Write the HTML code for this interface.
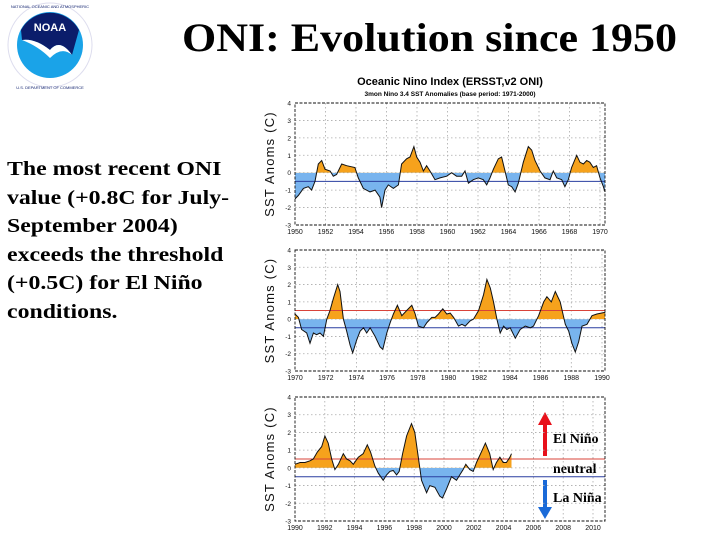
<!DOCTYPE html>
<html><head><meta charset="utf-8"><style>
html,body{margin:0;padding:0;background:#fff;}
body{width:720px;height:540px;overflow:hidden;position:relative;font-family:"Liberation Sans",sans-serif;}
.title{position:absolute;left:182px;top:14px;font:bold 40px "Liberation Serif",serif;color:#000;white-space:nowrap;transform:scale(1.1,1);transform-origin:left top;}
.desc{position:absolute;left:7px;top:155px;font:bold 20px/28.5px "Liberation Serif",serif;color:#000;white-space:nowrap;transform:scale(1.19,1);transform-origin:left top;}
</style></head><body>
<div class="title">ONI: Evolution since 1950</div>
<div class="desc">The most recent ONI<br>value (+0.8C for July-<br>September 2004)<br>exceeds the threshold<br>(+0.5C) for El Niño<br>conditions.</div>
<svg width="720" height="540" style="position:absolute;left:0;top:0" id="svg">
 <g>
  <circle cx="50" cy="45" r="42" fill="#fff" stroke="#dde" stroke-width="1"/>
  <circle cx="50" cy="45" r="33" fill="#1aa3e8"/>
  <path d="M21,30 A33,33 0 0 1 79,30 L72,55 Q60,38 50,50 Q35,38 22,40 Z" fill="#0b1d6b"/>
  <path d="M22,40 Q35,38 50,50 Q60,38 72,55 Q62,46 50,58 Q38,46 22,40Z" fill="#fff"/>
  <text x="50" y="31" font-size="11" font-weight="bold" fill="#fff" text-anchor="middle" font-family="Liberation Sans">NOAA</text>
  <text x="50" y="8" font-size="4" fill="#0b1d6b" text-anchor="middle">NATIONAL OCEANIC AND ATMOSPHERIC</text>
  <text x="50" y="89" font-size="4" fill="#0b1d6b" text-anchor="middle">U.S. DEPARTMENT OF COMMERCE</text>
 </g>
 <text x="450" y="85" font-size="11" font-weight="bold" text-anchor="middle">Oceanic Nino Index (ERSST,v2 ONI)</text>
 <text x="450" y="96" font-size="6.5" font-weight="bold" text-anchor="middle">3mon Nino 3.4 SST Anomalies (base period: 1971-2000)</text>
 <g>
  <line x1="545" y1="456" x2="545" y2="424" stroke="#e8101a" stroke-width="4"/>
  <polygon points="538,425 552,425 545,412" fill="#e8101a"/>
  <line x1="545" y1="480" x2="545" y2="508" stroke="#1a6ad8" stroke-width="4"/>
  <polygon points="538,507 552,507 545,519" fill="#1a6ad8"/>
  <text x="553" y="443" font-family="Liberation Serif" font-weight="bold" font-size="14">El Niño</text>
  <text x="553" y="473" font-family="Liberation Serif" font-weight="bold" font-size="14">neutral</text>
  <text x="553" y="502" font-family="Liberation Serif" font-weight="bold" font-size="14">La Niña</text>
 </g>
</svg>
<script>
const years1=[1950.00,1950.22,1950.55,1950.87,1951.09,1951.31,1951.53,1951.75,1951.97,1952.30,1952.51,1952.73,1953.06,1953.39,1953.93,1954.15,1954.48,1954.92,1955.25,1955.57,1955.68,1955.90,1956.12,1956.45,1956.78,1956.99,1957.32,1957.54,1957.80,1957.98,1958.20,1958.42,1958.63,1958.85,1959.18,1959.51,1959.95,1960.27,1960.60,1960.93,1961.15,1961.37,1961.69,1962.02,1962.35,1962.57,1962.79,1963.01,1963.33,1963.55,1963.77,1963.99,1964.21,1964.43,1964.64,1964.97,1965.30,1965.52,1965.74,1966.07,1966.39,1966.72,1966.94,1967.16,1967.49,1967.70,1967.92,1968.14,1968.47,1968.69,1968.91,1969.13,1969.34,1969.56,1969.78,1970.00,1970.22,1970.33];
const oni1=[-1.5,-1.3,-0.9,-0.8,-1.0,-0.5,0.5,0.7,0.2,0.1,-0.2,-0.1,0.5,0.4,0.3,-0.3,-0.9,-1.1,-1.0,-1.4,-2.0,-1.0,-0.7,-0.9,-0.7,0.5,0.8,0.9,1.5,0.9,0.6,0.1,0.4,0.1,-0.4,-0.3,-0.2,0.0,-0.2,-0.2,0.1,-0.6,-0.4,-0.3,-0.4,-0.7,-0.3,0.2,0.8,0.9,0.1,-0.7,-0.8,-1.1,-0.6,0.6,1.5,1.3,0.7,0.1,-0.3,-0.4,0.1,-0.3,-0.4,-0.8,-0.4,0.3,1.0,0.6,0.5,0.7,0.6,0.3,0.4,-0.3,-0.8,-1.1];
const years2=[1970.00,1970.22,1970.43,1970.76,1970.98,1971.20,1971.41,1971.63,1971.85,1972.07,1972.28,1972.50,1972.78,1972.93,1973.15,1973.37,1973.59,1973.76,1974.02,1974.24,1974.46,1974.67,1974.89,1975.22,1975.54,1975.72,1975.98,1976.20,1976.41,1976.67,1976.96,1977.28,1977.61,1977.83,1978.04,1978.37,1978.59,1978.91,1979.13,1979.35,1979.63,1979.89,1980.11,1980.33,1980.65,1980.87,1981.09,1981.41,1981.63,1981.96,1982.28,1982.50,1982.72,1982.93,1983.15,1983.37,1983.59,1983.80,1984.02,1984.35,1984.67,1985.00,1985.33,1985.54,1985.87,1986.20,1986.41,1986.70,1986.96,1987.28,1987.61,1987.83,1988.04,1988.26,1988.48,1988.70,1989.02,1989.35,1989.67,1990.22];
const oni2=[0.3,0.1,-0.6,-0.8,-1.4,-0.8,-0.9,-0.8,-1.0,0.0,0.5,1.2,2.0,1.6,0.0,-0.7,-1.5,-1.95,-1.2,-0.7,-0.5,-0.8,-0.5,-1.0,-1.6,-1.75,-0.8,-0.2,0.3,0.8,0.2,0.5,0.8,0.3,-0.4,-0.5,-0.2,0.1,0.1,0.3,0.6,0.3,0.35,0.1,-0.4,-0.3,-0.4,-0.1,0.0,0.5,1.4,2.3,1.8,1.0,0.0,-0.8,-0.4,-0.6,-0.5,-1.1,-0.6,-0.4,-0.5,-0.4,0.2,1.0,1.3,1.0,1.6,1.0,-0.3,-0.7,-1.4,-1.9,-1.3,-0.4,-0.3,0.2,0.3,0.4];
const years3=[1990.00,1990.34,1990.67,1991.01,1991.23,1991.50,1991.79,1992.01,1992.23,1992.46,1992.68,1992.91,1993.24,1993.46,1993.69,1993.91,1994.25,1994.58,1994.85,1995.07,1995.36,1995.59,1995.92,1996.15,1996.37,1996.59,1996.82,1996.99,1997.22,1997.49,1997.82,1998.04,1998.34,1998.49,1998.83,1999.05,1999.39,1999.72,1999.90,2000.17,2000.50,2000.84,2001.06,2001.28,2001.46,2001.73,2001.96,2002.18,2002.51,2002.78,2003.07,2003.30,2003.52,2003.75,2003.97,2004.19,2004.42,2004.53];
const oni3=[0.2,0.3,0.3,0.4,0.5,0.9,1.2,1.8,1.4,0.5,-0.1,0.2,0.8,0.5,0.4,0.2,0.6,0.8,1.3,0.9,0.1,-0.3,-0.7,-0.4,-0.2,-0.15,-0.4,-0.2,0.8,1.8,2.5,2.0,0.2,-0.7,-1.4,-1.0,-1.1,-1.6,-1.7,-1.2,-0.5,-0.7,-0.4,-0.1,0.2,-0.1,-0.2,0.3,0.9,1.4,0.8,-0.1,0.3,0.6,0.3,0.3,0.6,0.8];
const yTicks=[4,3,2,1,0,-1,-2,-3];
const thresholds=[0.5,-0.5];

const NS='http://www.w3.org/2000/svg';
const svg=document.getElementById('svg');
function mk(tag,attrs,parent){const e=document.createElementNS(NS,tag);for(const k in attrs)e.setAttribute(k,attrs[k]);parent.appendChild(e);return e;}

const panels=[
 {years:years1,vals:oni1,y0:1950,xl:295,xr:605,pxPerYr:15.25,top:103,bot:225,red:false,name:'panel-1950-1970'},
 {years:years2,vals:oni2,y0:1970,xl:295,xr:605,pxPerYr:15.35,top:250,bot:371,red:true,name:'panel-1970-1990'},
 {years:years3,vals:oni3,y0:1990,xl:295,xr:605,pxPerYr:14.9,top:397,bot:521,red:true,name:'panel-1990-2010'}
];
panels.forEach((p,pi)=>{
 const g=mk('g',{},svg);
 
 
 const x=yr=>p.xl+(yr-p.y0)*p.pxPerYr;
 const unit=(p.bot-p.top)/7;
 const y=v=>p.top+(4-v)*unit;
 const z=y(0);
 for(let t=0;t<=20;t+=2){const xx=x(p.y0+t);
  if(t>0&&xx<p.xr) mk('line',{x1:xx,x2:xx,y1:p.top,y2:p.bot,stroke:'#aaa','stroke-dasharray':'1.5,2.5','stroke-width':0.8},g);
  const lab=mk('text',{x:xx,y:p.bot+9,'font-size':7,'text-anchor':'middle',fill:'#111'},g);lab.textContent=String(p.y0+t);
  
  
 }
 yTicks.forEach(v=>{const yy=y(v);
  if(v<4&&v>-3) mk('line',{x1:p.xl,x2:p.xr,y1:yy,y2:yy,stroke:'#aaa','stroke-dasharray':'1.5,2.5','stroke-width':0.8},g);
  const lab=mk('text',{x:p.xl-4,y:yy+2.5,'font-size':6.5,'text-anchor':'end',fill:'#111'},g);lab.textContent=String(v);
  
  
 });
 const defs=mk('defs',{},g);
 const c1=mk('clipPath',{id:'up'+pi},defs);mk('rect',{x:p.xl,y:p.top,width:p.xr-p.xl,height:z-p.top},c1);
 const c2=mk('clipPath',{id:'dn'+pi},defs);mk('rect',{x:p.xl,y:z,width:p.xr-p.xl,height:p.bot-z},c2);
 let d='';p.years.forEach((yr,i)=>{d+=(i?'L':'M')+x(yr).toFixed(1)+','+y(p.vals[i]).toFixed(1);});
 const last=p.years[p.years.length-1];
 const area=d+'L'+x(last).toFixed(1)+','+z+'L'+x(p.years[0]).toFixed(1)+','+z+'Z';
 const a1=mk('path',{d:area,fill:'#f6a21c','clip-path':'url(#up'+pi+')'},g);
 
 
 const a2=mk('path',{d:area,fill:'#78b4ee','clip-path':'url(#dn'+pi+')'},g);
 
 
 if(p.red){const l=mk('line',{x1:p.xl,x2:p.xr,y1:y(thresholds[0]),y2:y(thresholds[0]),stroke:'#d8433a','stroke-width':1},g);
  
  }
 const lb=mk('line',{x1:p.xl,x2:p.xr,y1:y(thresholds[1]),y2:y(thresholds[1]),stroke:'#2a3fa0','stroke-width':1},g);
 
 
 const ln=mk('path',{d:d,fill:'none',stroke:'#111','stroke-width':1},g);
 
 
 mk('rect',{x:p.xl,y:p.top,width:p.xr-p.xl,height:p.bot-p.top,fill:'none',stroke:'#111','stroke-width':0.9,'stroke-dasharray':'3,1.5'},g);
 const cy=(p.top+p.bot)/2;
 const yt=mk('text',{x:274,y:cy,'font-size':13,'letter-spacing':'1.2','text-anchor':'middle',transform:'rotate(-90 274 '+cy+')',fill:'#111'},g);
 yt.textContent='SST Anoms (C)';
 
 
});
</script>
</body></html>
